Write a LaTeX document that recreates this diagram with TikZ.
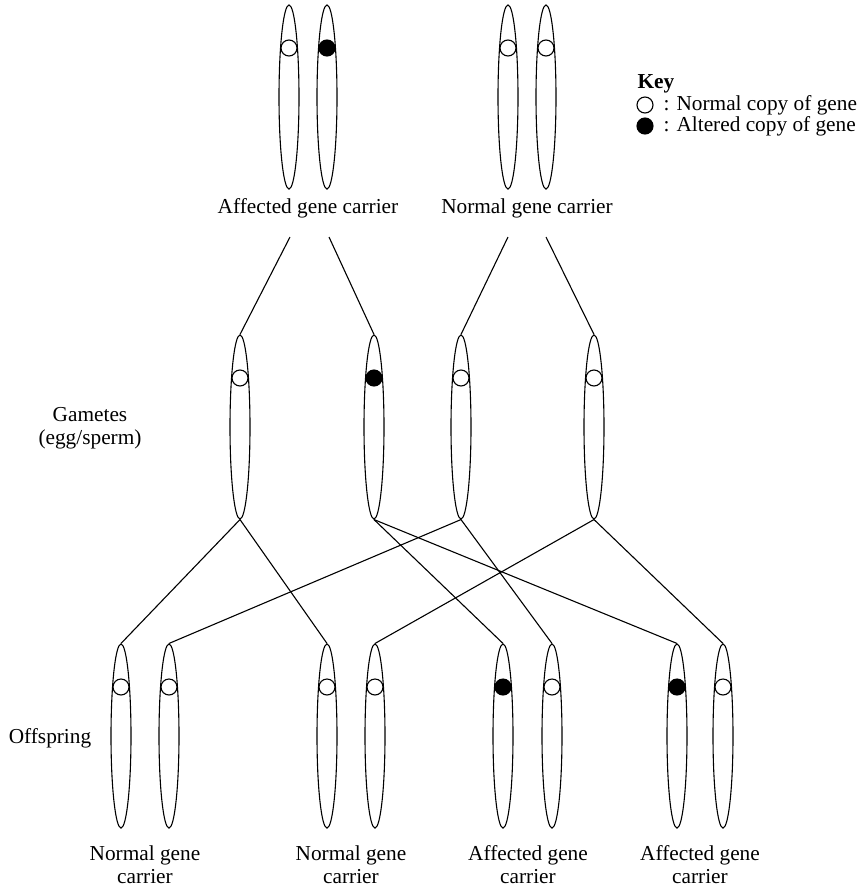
\documentclass[tikz,border=0pt]{standalone}
\usepackage{fontspec}
\setmainfont{Liberation Serif}
\usetikzlibrary{shapes.geometric, positioning}

\begin{document}
\begin{tikzpicture}[x=1pt, y=-1pt, line width=1.1pt,
  chrom/.style={draw, ellipse, inner sep=0pt, minimum width=20pt, minimum height=184pt},
  gene/.style={draw, circle, inner sep=0pt, minimum size=16pt, fill=white},
  altgene/.style={gene, fill=black},
  lbl/.style={font=\fontsize{21.3}{23}\selectfont, align=center, inner sep=0pt}]
\useasboundingbox (0,0) rectangle (868,887);

% Parents
\node[chrom] (pa1) at (289,97) {};
\node[chrom] (pa2) at (327,97) {};
\node[chrom] (pn1) at (508,97) {};
\node[chrom] (pn2) at (546,97) {};
\node[gene] (ga1) at (289,48) {};
\node[altgene] (ga2) at (327,48) {};
\node[gene] (gn1) at (508,48) {};
\node[gene] (gn2) at (546,48) {};
\node[lbl, anchor=base] (affpar) at (308,213) {Affected gene carrier};
\node[lbl, anchor=base] (normpar) at (527,213) {Normal gene carrier};

% Key
\node[lbl, font=\fontsize{21.3}{23}\selectfont\bfseries, anchor=west] (key) at (637,84) {Key};
\node[gene] (keyn) at (645,105) {};
\node[altgene] (keya) at (645,126) {};
\node[lbl, anchor=west] (keyntxt) at (663,105) {: Normal copy of gene};
\node[lbl, anchor=west] (keyatxt) at (663,126) {: Altered copy of gene};

% Gametes
\node[chrom] (g1) at (240,427) {};
\node[chrom] (g2) at (374,427) {};
\node[chrom] (g3) at (461,427) {};
\node[chrom] (g4) at (594,427) {};
\node[gene] at (240,378) {};
\node[altgene] at (374,378) {};
\node[gene] at (461,378) {};
\node[gene] at (594,378) {};
\node[lbl] (gamlbl) at (90,428) {Gametes\\(egg/sperm)};

% Parent to gamete lines
\coordinate (pa1b) at (290,237);
\coordinate (pa2b) at (329,237);
\coordinate (pn1b) at (508,237);
\coordinate (pn2b) at (546,237);
\draw (pa1b) -- (g1.north);
\draw (pa2b) -- (g2.north);
\draw (pn1b) -- (g3.north);
\draw (pn2b) -- (g4.north);

% Offspring
\node[chrom] (o1a) at (121,736) {};
\node[chrom] (o1b) at (169,736) {};
\node[chrom] (o2a) at (327,736) {};
\node[chrom] (o2b) at (375,736) {};
\node[chrom] (o3a) at (503,736) {};
\node[chrom] (o3b) at (552,736) {};
\node[chrom] (o4a) at (677,736) {};
\node[chrom] (o4b) at (723,736) {};
\node[gene] at (121,687) {};
\node[gene] at (169,687) {};
\node[gene] at (327,687) {};
\node[gene] at (375,687) {};
\node[altgene] at (503,687) {};
\node[gene] at (552,687) {};
\node[altgene] at (677,687) {};
\node[gene] at (723,687) {};
\node[lbl] (offlbl) at (50,738) {Offspring};

% Gamete to offspring lines
\draw (g1.south) -- (o1a.north);
\draw (g1.south) -- (o2a.north);
\draw (g2.south) -- (o3a.north);
\draw (g2.south) -- (o4a.north);
\draw (g3.south) -- (o1b.north);
\draw (g3.south) -- (o3b.north);
\draw (g4.south) -- (o2b.north);
\draw (g4.south) -- (o4b.north);

% Offspring labels
\node[lbl] (off1) at (145,865) {Normal gene\\carrier};
\node[lbl] (off2) at (351,865) {Normal gene\\carrier};
\node[lbl] (off3) at (528,865) {Affected gene\\carrier};
\node[lbl] (off4) at (700,865) {Affected gene\\carrier};
\end{tikzpicture}
\end{document}
